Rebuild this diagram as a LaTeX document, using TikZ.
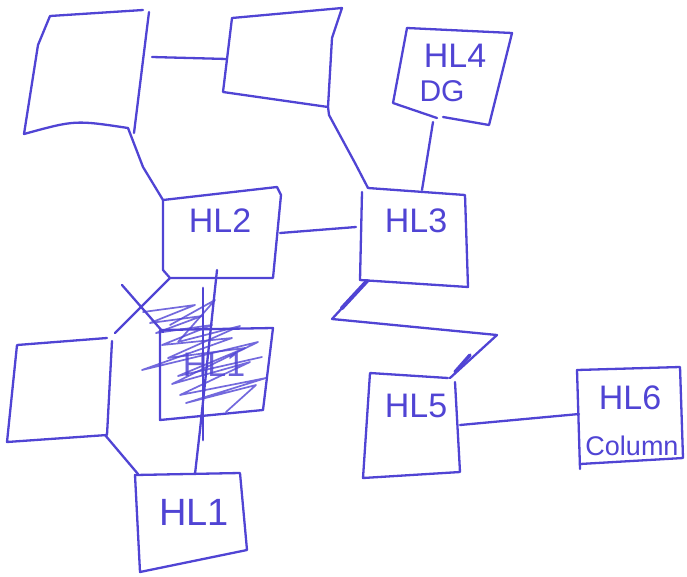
\documentclass[tikz,border=0pt]{standalone}
\usepackage{fontspec}
\setmainfont{Liberation Sans}
\definecolor{ink}{RGB}{80,68,212}
\begin{document}
\begin{tikzpicture}[x=1pt,y=-1pt,
  pen/.style={draw=ink, line width=2.3pt, line join=round, line cap=round},
  hatch/.style={draw=ink, line width=1.7pt, line join=round, line cap=round, opacity=0.8},
  lbl/.style={text=ink, inner sep=0pt, font=\fontsize{34}{36}\selectfont},
  smalllbl/.style={text=ink, inner sep=0pt, font=\fontsize{27}{29}\selectfont}]
\useasboundingbox (0,0) rectangle (687,576);

% --- connection points
\coordinate (aR) at (152,57);
\coordinate (bL) at (227,59);
\coordinate (aB) at (128,128);
\coordinate (hlTwoTL) at (163,200);
\coordinate (bB) at (328,107);
\coordinate (hlThreeTL) at (368,188);
\coordinate (hlFourB) at (433,122);
\coordinate (hlThreeT) at (422,190);
\coordinate (hlTwoR) at (280,233);
\coordinate (hlThreeL) at (356,227);
\coordinate (hlThreeBL) at (367,281);
\coordinate (hlFiveTR) at (450,378);
\coordinate (hlFiveR) at (460,425);
\coordinate (hlSixL) at (579,414);
\coordinate (lBR) at (105,435);
\coordinate (hlOneTL) at (138,474);
\coordinate (hlTwoB) at (217,270);
\coordinate (hlOneT) at (195,474);
\coordinate (hlTwoBL) at (170,278);
\coordinate (crossEnd) at (115,333);

% --- box A (top left)
\draw[pen] (143,10) -- (50,16) -- (38,45) -- (24,134) .. controls (75,120) .. (128,128);
\draw[pen] (149,12) -- (134,133);
% --- box B (top middle)
\draw[pen] (232,18) -- (342,8) -- (332,38) -- (328,107) -- (223,92) -- cycle;
% --- HL4 DG
\draw[pen] (407,28) -- (512,33) -- (489,125) -- (443,117);
\draw[pen] (437,118) -- (393,103) -- (407,28);
\node[lbl] (hlfour) at (455,56) {HL4};
\node[lbl, font=\fontsize{30}{32}\selectfont] (dg) at (442,91) {DG};
% --- HL2
\draw[pen] (163,200) -- (277,187) -- (281,195) -- (273,278) -- (170,278) -- (163,270) -- cycle;
\node[lbl] (hltwo) at (220,221) {HL2};
% --- HL3
\draw[pen] (368,188) -- (465,195) -- (468,287) -- (360,280);
\draw[pen] (362,192) -- (360,280);
\node[lbl] (hlthree) at (416,221) {HL3};
% --- HL5
\draw[pen] (448,378) -- (370,373) -- (363,478) -- (460,472) -- (455,382);
\node[lbl] (hlfive) at (416,406) {HL5};
% --- HL6
\draw[pen] (577,370) -- (680,367) -- (683,458) -- (580,464);
\draw[pen] (577,370) -- (580,469);
\node[lbl] (hlsix) at (630,398) {HL6};
\node[smalllbl] (column) at (632,446) {Column};
% --- left box
\draw[pen] (107,338) -- (17,345) -- (7,442) -- (107,435) -- (112,341);
% --- HL1
\draw[pen] (135,475) -- (240,473) -- (247,550) -- (140,572) -- cycle;
\node[lbl, font=\fontsize{38}{40}\selectfont] (hlone) at (194,512) {HL1};
% --- scribbled box
\draw[pen] (160,330) -- (273,328) -- (263,410) -- (160,420) -- cycle;
\node[lbl, opacity=0.85] (hlx) at (214,365) {HL1};
\draw[hatch] (143,312) -- (195,305) -- (150,323) -- (202,316) -- (156,333) -- (212,325)
  -- (162,345) -- (232,338) -- (142,370) -- (258,342) -- (172,384) -- (250,362)
  -- (180,395) -- (266,378) -- (186,403) -- (256,385) -- (226,412);
\draw[hatch] (170,325) -- (215,300) -- (178,342) -- (240,326) -- (168,358) -- (245,348)
  -- (178,376) -- (262,357);
% --- connectors
\draw[pen] (aR) -- (bL);
\draw[pen] (aB) -- (143,167) -- (hlTwoTL);
\draw[pen] (bB) -- (329,115) -- (355,163) -- (hlThreeTL);
\draw[pen] (hlFourB) -- (hlThreeT);
\draw[pen] (hlTwoR) -- (hlThreeL);
\draw[pen] (hlThreeBL) -- (332,319) -- (497,335) -- (hlFiveTR);
\draw[pen, line width=4pt] (367,281) -- (342,308);
\draw[pen, line width=3.5pt] (470,355) -- (455,372);
\draw[pen] (hlFiveR) -- (hlSixL);
\draw[pen] (lBR) -- (hlOneTL);
\draw[pen] (hlTwoB) -- (200,430) -- (hlOneT);
\draw[pen, line width=2.8pt] (203,288) -- (203,440);
\draw[pen] (hlTwoBL) -- (crossEnd);
\draw[pen] (122,285) -- (163,332);
\end{tikzpicture}
\end{document}
